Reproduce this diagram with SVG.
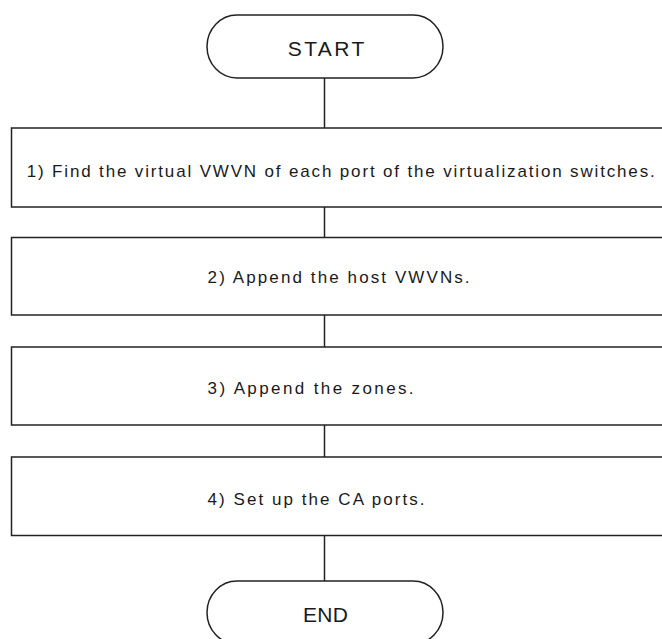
<svg xmlns="http://www.w3.org/2000/svg" width="662" height="639" viewBox="0 0 662 639">
<style>
.shape{fill:#fff;stroke:#222;stroke-width:1.5}
.conn{stroke:#222;stroke-width:1.5;fill:none}
.t{font-family:"Liberation Sans",Arial,sans-serif;font-size:17px;fill:#1a1a1a}
.tt{font-family:"Liberation Sans",Arial,sans-serif;font-size:21px;fill:#1a1a1a}
</style>
<rect width="662" height="639" fill="#fff"/>
<g id="connectors">
<line class="conn" x1="324.5" y1="78" x2="324.5" y2="128"/>
<line class="conn" x1="324.5" y1="207" x2="324.5" y2="237.5"/>
<line class="conn" x1="324.5" y1="315" x2="324.5" y2="347"/>
<line class="conn" x1="324.5" y1="425" x2="324.5" y2="457"/>
<line class="conn" x1="324.5" y1="535.5" x2="324.5" y2="581"/>
</g>
<g id="start">
<path class="shape" d="M237,15 H413 A30,31.5 0 0 1 413,78 H237 A30,31.5 0 0 1 237,15 Z"/>
<text class="tt" x="287.7" y="55.5" textLength="76.6" lengthAdjust="spacing">START</text>
</g>
<g id="step1">
<rect class="shape" x="11.5" y="128" width="660" height="79"/>
<text class="t" x="26.7" y="176.5" textLength="628" lengthAdjust="spacing">1) Find the virtual VWVN of each port of the virtualization switches.</text>
</g>
<g id="step2">
<rect class="shape" x="11.5" y="237.5" width="660" height="77.5"/>
<text class="t" x="207.6" y="283" textLength="262" lengthAdjust="spacing">2) Append the host VWVNs.</text>
</g>
<g id="step3">
<rect class="shape" x="11.5" y="347" width="660" height="78"/>
<text class="t" x="207.6" y="394" textLength="206" lengthAdjust="spacing">3) Append the zones.</text>
</g>
<g id="step4">
<rect class="shape" x="11.5" y="457" width="660" height="78.5"/>
<text class="t" x="207.6" y="504.5" textLength="217" lengthAdjust="spacing">4) Set up the CA ports.</text>
</g>
<g id="end">
<path class="shape" d="M237,581 H413 A30,31.5 0 0 1 413,644 H237 A30,31.5 0 0 1 237,581 Z"/>
<text class="tt" x="303" y="621.5" textLength="45" lengthAdjust="spacing">END</text>
</g>
</svg>
